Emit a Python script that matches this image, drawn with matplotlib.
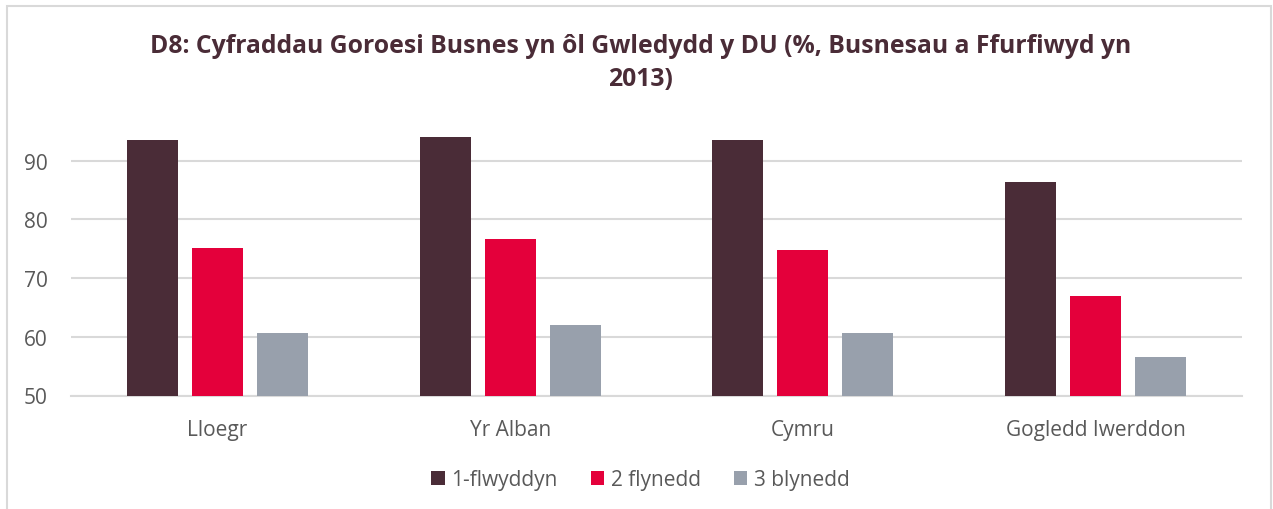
import numpy as np
import matplotlib
matplotlib.use('Agg')
import matplotlib.pyplot as plt
from matplotlib.patches import Rectangle, Patch

# Data
categories = ['Lloegr', 'Yr Alban', 'Cymru', 'Gogledd Iwerddon']
series_names = ['1-flwyddyn', '2 flynedd', '3 blynedd']
one_year = [93.5, 94.0, 93.6, 86.4]
two_year = [75.1, 76.6, 74.8, 67.0]
three_year = [60.7, 62.0, 60.6, 56.6]
yticks = [50, 60, 70, 80, 90]

colors = ['#4A2C37', '#E4003B', '#98A0AC']
title = 'D8: Cyfraddau Goroesi Busnes yn ôl Gwledydd y DU (%, Busnesau a Ffurfiwyd yn\n2013)'

plt.rcParams['font.family'] = ['Open Sans', 'DejaVu Sans']

fig = plt.figure(figsize=(12.73, 5.10), dpi=100)
ax = fig.add_axes([71/1273, 1-396.5/510, (1242-71)/1273, (396.5-132.4)/510])

# Outer chart frame
fig.patches.append(Rectangle((7/1273, -0.2), (1271-7)/1273, 1.2-7/510,
                             transform=fig.transFigure, fill=False,
                             edgecolor='#D9D9D9', linewidth=1.5))

x = np.arange(len(categories))
step = 0.222
width = 0.174
for ii, vals in enumerate([one_year, two_year, three_year]):
    ax.bar(x + (ii-1)*step, np.array(vals) - 50, width, bottom=50,
           color=colors[ii], label=series_names[ii], zorder=3)

ax.set_xlim(-0.5, len(categories)-0.5)
ax.set_ylim(50, 95)
ax.set_yticks(yticks)
ax.set_xticks(x)
ax.set_xticklabels(categories)
ax.grid(axis='y', color='#D9D9D9', linewidth=1.5, zorder=0)
for s in ['top', 'right', 'left']:
    ax.spines[s].set_visible(False)
ax.spines['bottom'].set_color('#D9D9D9')
ax.spines['bottom'].set_linewidth(1.5)
ax.tick_params(axis='both', length=0, labelsize=15, labelcolor='#595959')
ax.tick_params(axis='y', pad=17)
ax.tick_params(axis='x', pad=17)

fig.text(0.503, 1-63/510, title, ha='center', va='center', fontsize=17.8,
         fontweight='bold', color='#4A2C37', linespacing=1.45)

handles = [Patch(facecolor=c, label=n) for c, n in zip(colors, series_names)]
fig.legend(handles=handles, loc='center', bbox_to_anchor=(0.503, 1-481/510),
           ncol=3, frameon=False, fontsize=15, labelcolor='#595959',
           handlelength=0.65, handleheight=0.65, handletextpad=0.3,
           columnspacing=1.6)

fig.savefig('out.png', dpi=100)
